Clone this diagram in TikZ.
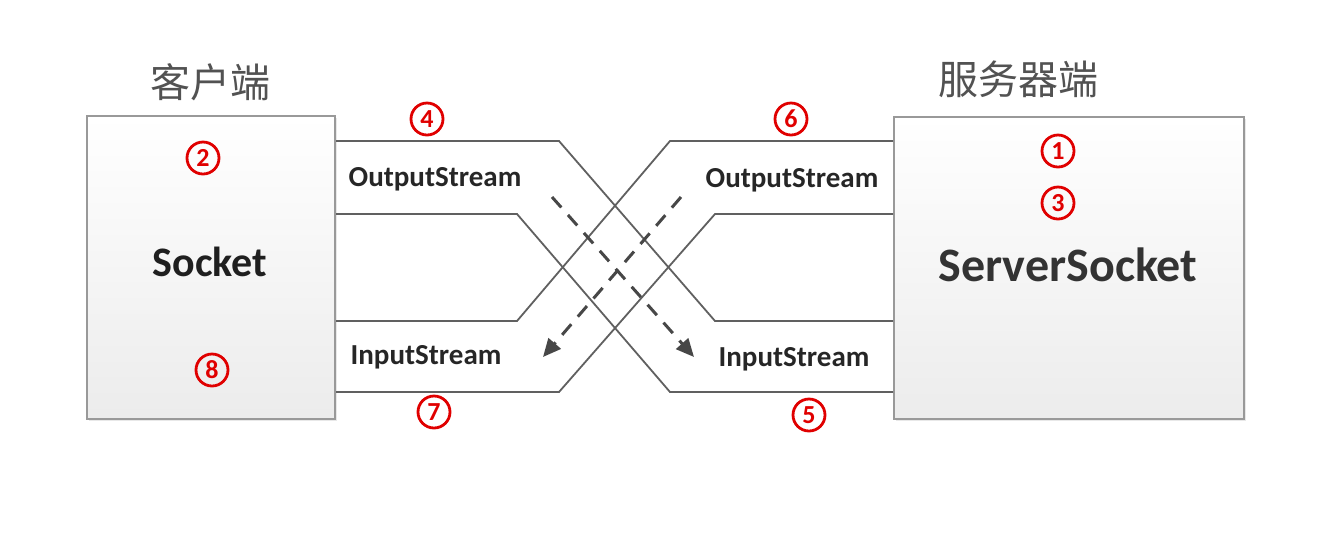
\documentclass[tikz,border=0pt]{standalone}
\usepackage{fontspec}
\setmainfont{Carlito}
\newfontfamily\cjk{Noto Sans CJK SC}
\usetikzlibrary{arrows.meta,shadows}

\begin{document}
\begin{tikzpicture}
[
    x=0.5pt, y=-0.5pt,
    endbox/.style={draw=gray!80, line width=1pt, top color=white, bottom color=gray!15,
        drop shadow={opacity=0.18, shadow xshift=1.2pt, shadow yshift=-1.2pt}},
    pipe/.style={draw=gray!75!black, line width=0.9pt},
    flow/.style={draw=black!72, line width=1.5pt, dash pattern=on 7pt off 5pt,
        -{Triangle[length=9pt,width=8pt]}},
    stream/.style={font=\bfseries\fontsize{14.5}{16}\selectfont, text=black!85},
    numcirc/.style={circle, draw=red!88!black, text=red!88!black, line width=1.4pt,
        inner sep=0pt, minimum size=16pt, font=\bfseries\fontsize{13}{14}\selectfont},
    title/.style={font=\cjk\fontsize{20}{22}\selectfont, text=black!68},
]
\useasboundingbox (0,0) rectangle (1329,548);

% the two ends
\node [endbox, minimum width=124pt, minimum height=151.5pt] (client) at (211,267) {};
\node [endbox, minimum width=175pt, minimum height=151pt] (server) at (1069,268) {};
\node [title] (clienttitle) at (210,82) {客户端};
\node [title] (servertitle) at (1018,79) {服务器端};
\node [font=\bfseries\fontsize{21}{24}\selectfont, text=black!88] (socket) at (210,262) {Socket};
\node [font=\bfseries\fontsize{24}{28}\selectfont, text=black!80] (serversocket) at (1068,265) {ServerSocket};

% bends of the pipes
\coordinate (cu1) at (559,141); \coordinate (cu2) at (715,321);
\coordinate (cl1) at (517,214); \coordinate (cl2) at (670,392);
\coordinate (su1) at (670,141); \coordinate (su2) at (517,321);
\coordinate (sl1) at (715,214); \coordinate (sl2) at (559,392);

% client output -> server input
\draw [pipe] (client.east |- cu1) -- (cu1) -- (cu2) -- (server.west |- cu2);
\draw [pipe] (client.east |- cl1) -- (cl1) -- (cl2) -- (server.west |- cl2);
% server output -> client input
\draw [pipe] (server.west |- su1) -- (su1) -- (su2) -- (client.east |- su2);
\draw [pipe] (server.west |- sl1) -- (sl1) -- (sl2) -- (client.east |- sl2);

% data flow
\coordinate (c2sa) at (552,197); \coordinate (c2sb) at (694,357);
\coordinate (s2ca) at (681,197); \coordinate (s2cb) at (543,357);
\draw [flow] (c2sa) -- (c2sb);
\draw [flow] (s2ca) -- (s2cb);

\node [stream] (cout) at (435,179) {OutputStream};
\node [stream] (sout) at (792,180) {OutputStream};
\node [stream] (cin) at (426,357) {InputStream};
\node [stream] (sin) at (794,359) {InputStream};

% steps
\node [numcirc] (n1) at (1058,151) {1};
\node [numcirc] (n2) at (203,158) {2};
\node [numcirc] (n3) at (1058,203) {3};
\node [numcirc] (n4) at (427,119) {4};
\node [numcirc] (n5) at (809,415) {5};
\node [numcirc] (n6) at (791,119) {6};
\node [numcirc] (n7) at (434,412) {7};
\node [numcirc] (n8) at (212,370) {8};
\end{tikzpicture}
\end{document}
